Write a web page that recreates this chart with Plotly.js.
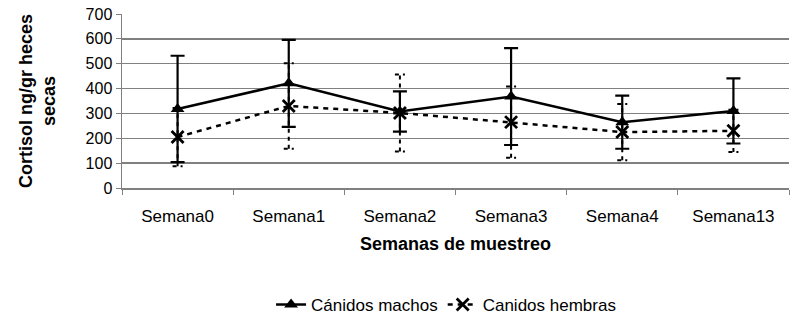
<!DOCTYPE html>
<html>
<head>
<meta charset="utf-8">
<script src="https://cdn.plot.ly/plotly-3.0.1.min.js"></script>
<style>
  html, body { margin: 0; padding: 0; background: #fff; }
  #chart { width: 793px; height: 320px; }
</style>
</head>
<body>
<div id="chart"></div>
<script>
// Sampling weeks
const semanas = ['Semana0', 'Semana1', 'Semana2', 'Semana3', 'Semana4', 'Semana13'];

// Fecal cortisol (ng/gr dry feces): mean and error per week
const machosMedia = [318, 421, 308, 368, 265, 310];
const machosError = [214, 175, 81, 195, 107, 131];
const hembrasMedia = [205, 330, 302, 265, 225, 230];
const hembrasError = [117, 172, 155, 143, 113, 85];

const FONT = 'Liberation Sans, Arial, sans-serif';
const idx = semanas.map((_, i) => i);

// Dashed whiskers for the female series, built as line segments from mean ± error
const capHalf = 0.045;
const whiskX = [], whiskY = [];
idx.forEach(i => {
  const lo = hembrasMedia[i] - hembrasError[i];
  const hi = hembrasMedia[i] + hembrasError[i];
  whiskX.push(i, i, null, i - capHalf, i + capHalf, null, i - capHalf, i + capHalf, null);
  whiskY.push(lo, hi, null, lo, lo, null, hi, hi, null);
});

const traces = [
  {
    x: whiskX, y: whiskY,
    type: 'scatter', mode: 'lines',
    line: { color: '#000', width: 2, dash: '4px,4px' },
    showlegend: false, hoverinfo: 'skip', xaxis: 'x2'
  },
  {
    x: idx, y: hembrasMedia,
    name: 'Canidos hembras',
    type: 'scatter', mode: 'lines+markers',
    line: { color: '#000', width: 2.5, dash: '5px,5px' },
    marker: { symbol: 'x-thin-open', size: 12, color: '#000', line: { color: '#000', width: 2.8 } }
  },
  {
    x: idx, y: machosMedia,
    name: 'Cánidos machos',
    type: 'scatter', mode: 'lines+markers',
    line: { color: '#000', width: 2.5 },
    marker: { symbol: 'triangle-up', size: 12, color: '#000' },
    error_y: { type: 'data', array: machosError, visible: true, color: '#000', thickness: 2.2, width: 7 }
  }
];

const layout = {
  width: 793, height: 320,
  margin: { l: 122, r: 4, t: 14, b: 132, autoexpand: false },
  paper_bgcolor: '#fff', plot_bgcolor: '#fff',
  font: { family: FONT, color: '#000', size: 17 },
  showlegend: true,
  legend: {
    orientation: 'h',
    xref: 'container', x: 0.5625, xanchor: 'center',
    yref: 'container', y: 0.047, yanchor: 'middle',
    font: { family: FONT, size: 17, color: '#000' },
    traceorder: 'reversed', itemwidth: 30
  },
  xaxis: {
    range: [-0.5, 5.5], fixedrange: true,
    tickvals: [-0.5, 0.5, 1.5, 2.5, 3.5, 4.5, 5.5],
    ticktext: ['', '', '', '', '', '', ''],
    ticks: 'outside', ticklen: 5, tickcolor: '#808080', tickwidth: 1,
    showgrid: false, zeroline: false,
    showline: true, linecolor: '#808080', linewidth: 1.5,
    title: { text: '<b>Semanas de muestreo</b>', font: { family: FONT, size: 18, color: '#000' }, standoff: 40 }
  },
  xaxis2: {
    overlaying: 'x', matches: 'x', side: 'bottom',
    tickvals: idx, ticktext: semanas,
    ticks: '', showgrid: false, zeroline: false, showline: false,
    ticklabelstandoff: 16,
    tickfont: { family: FONT, size: 17, color: '#000' }
  },
  yaxis: {
    range: [0, 700], dtick: 100, fixedrange: true,
    ticks: 'outside', ticklen: 5, tickcolor: '#808080',
    showgrid: true, gridcolor: '#808080', gridwidth: 1.5,
    zeroline: false, showline: true, linecolor: '#808080', linewidth: 1.5,
    tickfont: { family: FONT, size: 16, color: '#000' },
    title: { text: '<b>Cortisol ng/gr heces<br>secas</b>', font: { family: FONT, size: 18, color: '#000' }, standoff: 25 }
  },
  hovermode: false
};

Plotly.newPlot('chart', traces, layout, { displayModeBar: false, staticPlot: true });
</script>
</body>
</html>
